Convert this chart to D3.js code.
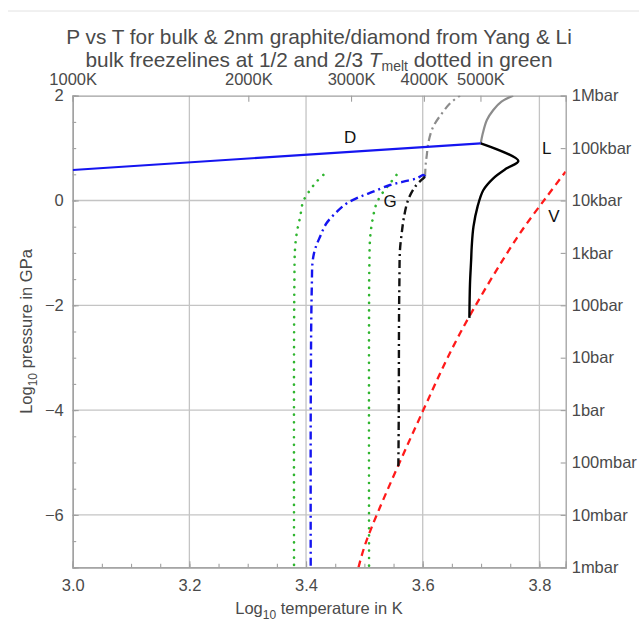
<!DOCTYPE html>
<html>
<head>
<meta charset="utf-8">
<script src="https://cdn.jsdelivr.net/npm/d3@7/dist/d3.min.js"></script>
<style>
  html, body { margin: 0; padding: 0; background: #fff; }
  svg { display: block; font-family: "Liberation Sans", Arial, sans-serif; }
</style>
</head>
<body>
<svg id="chart" width="639" height="625"></svg>
<script>
// ---- data: [log10 T (K), log10 P (GPa)] ----
const diamondLine = [[3.0, 0.582], [3.6995, 1.092]];                       // D, blue solid
const meltUpper = [[3.6995, 1.092], [3.703, 1.282], [3.710, 1.536], [3.721, 1.727],
                   [3.735, 1.886], [3.755, 2.0]];                            // grey solid
const liquidLine = [[3.6995, 1.092], [3.764, 0.754], [3.744, 0.614], [3.721, 0.424],
                    [3.704, 0.200], [3.694, -0.118], [3.687, -0.500], [3.684, -0.882],
                    [3.683, -1.136], [3.681, -1.6], [3.680, -2.24]];        // L, black solid
const vapourLine = [[3.490, -7.0], [3.504, -6.48], [3.601, -4.0], [3.664, -2.535],
                    [3.761, -0.721], [3.8126, 0.073], [3.845, 0.55]];       // V, red dashed
const nanoUpper = [[3.604, 0.454], [3.605, 0.677], [3.607, 0.868], [3.610, 1.122],
                   [3.618, 1.408], [3.633, 1.664], [3.647, 1.855], [3.661, 1.981],
                   [3.664, 2.0]];                                            // grey dot-dash
const nanoGraphite = [[3.604, 0.454], [3.601, 0.487], [3.590, 0.424], [3.567, 0.359],
                      [3.544, 0.296], [3.515, 0.168], [3.493, 0.073], [3.470, -0.053],
                      [3.453, -0.214], [3.435, -0.435], [3.424, -0.691], [3.415, -0.945],
                      [3.411, -1.198], [3.410, -1.580], [3.409, -2.218], [3.408, -4.126],
                      [3.408, -7.0]];                                        // blue dot-dash
const nanoLiquid = [[3.604, 0.454], [3.601, 0.424], [3.587, 0.263], [3.575, 0.010],
                    [3.568, -0.309], [3.564, -0.626], [3.561, -0.944], [3.560, -1.580],
                    [3.5594, -2.218], [3.5589, -4.126], [3.5582, -5.11]];   // black dot-dash
const freezeHalf = [[3.4296, 0.487], [3.418, 0.359], [3.407, 0.201], [3.395, -0.023],
                    [3.390, -0.309], [3.384, -0.626], [3.381, -0.944], [3.380, -1.580],
                    [3.3794, -2.853], [3.3794, -7.0]];                       // green dotted
const freezeTwoThirds = [[3.555, 0.487], [3.544, 0.328], [3.5325, 0.168], [3.521, -0.053],
                         [3.515, -0.309], [3.510, -0.691], [3.5085, -1.263], [3.508, -2.218],
                         [3.508, -7.0]];                                     // green dotted

const phaseLabels = [["D", 3.4754, 1.212], ["G", 3.544, 0.0], ["L", 3.8126, 1.0], ["V", 3.825, -0.296]];

const xTicks = [3.0, 3.2, 3.4, 3.6, 3.8];
const yTicks = [2, 0, -2, -4, -6];
const topTempsK = [1000, 2000, 3000, 4000, 5000];
const pressureLabels = ["1Mbar", "100kbar", "10kbar", "1kbar", "100bar", "10bar",
                        "1bar", "100mbar", "10mbar", "1mbar"];   // log10 P = 2 .. -7

// ---- layout ----
const svg = d3.select("#chart");
const L = 72.7, R = 565.7, T = 95.7, B = 567.3;
const x = d3.scaleLinear().domain([3, Math.log10(7000)]).range([L, R]);
const y = d3.scaleLinear().domain([-7, 2]).range([B, T]);

const textCol = "#4a4a4a";
const frameCol = "#a0a0a0";
const gridCol = "#c4c4c4";

// faint rule at the top of the page
svg.append("line").attr("x1", 8).attr("x2", 639).attr("y1", 11).attr("y2", 11)
  .attr("stroke", "#e2e2e2").attr("stroke-width", 1);

// title
const title = svg.append("g").attr("fill", textCol).attr("font-size", 20.8).attr("text-anchor", "middle");
title.append("text").attr("x", 319).attr("y", 44)
  .text("P vs T for bulk & 2nm graphite/diamond from Yang & Li");
const t2 = title.append("text").attr("x", 319).attr("y", 67);
t2.append("tspan").text("bulk freezelines at 1/2 and 2/3 ");
t2.append("tspan").attr("font-style", "italic").text("T");
t2.append("tspan").attr("font-size", 14).attr("dy", 4).text("melt");
t2.append("tspan").attr("dy", -4).text(" dotted in green");

// grid
const grid = svg.append("g").attr("stroke", gridCol).attr("stroke-width", 1.3);
grid.selectAll(".gx").data(xTicks.filter(d => d > 3)).join("line")
  .attr("x1", d => x(d)).attr("x2", d => x(d)).attr("y1", T).attr("y2", B);
grid.selectAll(".gy").data(yTicks.filter(d => d < 2)).join("line")
  .attr("x1", L).attr("x2", R).attr("y1", d => y(d)).attr("y2", d => y(d));

// axes
const fmt1 = d3.format(".1f");
svg.append("g").attr("transform", `translate(0,${B})`)
  .call(d3.axisBottom(x).tickValues(d3.range(3, 3.84, 0.05)).tickSize(-3.5).tickFormat(""));
svg.append("g").attr("transform", `translate(0,${B})`)
  .call(d3.axisBottom(x).tickValues(xTicks).tickSize(-6).tickPadding(12).tickFormat(fmt1));

svg.append("g").attr("transform", `translate(${L},0)`)
  .call(d3.axisLeft(y).tickValues(d3.range(-7, 2.01, 0.5)).tickSize(-3.5).tickFormat(""));
svg.append("g").attr("transform", `translate(${L},0)`)
  .call(d3.axisLeft(y).tickValues(yTicks).tickSize(-6).tickPadding(9)
    .tickFormat(d => d < 0 ? "\u2212" + Math.abs(d) : String(d)));

svg.append("g").attr("transform", `translate(0,${T})`)
  .call(d3.axisTop(x).tickValues(topTempsK.map(k => Math.log10(k))).tickSize(-6).tickPadding(10.5)
    .tickFormat((d, i) => topTempsK[i] + "K"));

svg.append("g").attr("transform", `translate(${R},0)`)
  .call(d3.axisRight(y).tickValues(d3.range(2, -7.01, -1)).tickSize(-5).tickPadding(6)
    .tickFormat((d, i) => pressureLabels[i]));

svg.selectAll(".domain").attr("stroke", frameCol).attr("stroke-width", 1.3);
svg.selectAll(".tick line").attr("stroke", frameCol).attr("stroke-width", 1.1);
svg.selectAll(".tick text").attr("fill", textCol).attr("font-size", 16.5)
  .attr("font-family", "'Liberation Sans', Arial, sans-serif");

// axis titles
const xt = svg.append("text").attr("x", 319).attr("y", 614).attr("text-anchor", "middle")
  .attr("fill", textCol).attr("font-size", 16.5);
xt.append("tspan").text("Log");
xt.append("tspan").attr("font-size", 12).attr("dy", 5).text("10");
xt.append("tspan").attr("dy", -5).text(" temperature in K");

const yt = svg.append("text").attr("transform", `translate(32,${(T + B) / 2}) rotate(-90)`)
  .attr("text-anchor", "middle").attr("fill", textCol).attr("font-size", 16.5);
yt.append("tspan").text("Log");
yt.append("tspan").attr("font-size", 12).attr("dy", 5).text("10");
yt.append("tspan").attr("dy", -5).text(" pressure in GPa");

// curves
const plot = svg.append("g");
svg.append("clipPath").attr("id", "clip").append("rect")
  .attr("x", L).attr("y", T).attr("width", R - L).attr("height", B - T);
plot.attr("clip-path", "url(#clip)");
const line = d3.line().x(d => x(d[0])).y(d => y(d[1])).curve(d3.curveCatmullRom.alpha(0.5));

const series = [
  { d: freezeHalf, c: "#2fb52f", w: 2.6, dash: "0.1,7.4", cap: "round" },
  { d: freezeTwoThirds, c: "#2fb52f", w: 2.6, dash: "0.1,7.4", cap: "round" },
  { d: vapourLine, c: "#ff1a1a", w: 2.3, dash: "7,5", cap: "butt" },
  { d: nanoUpper, c: "#8c8c8c", w: 2.2, dash: "8,4,2,4", cap: "butt" },
  { d: nanoGraphite, c: "#1515f0", w: 2.4, dash: "8,4,2,4", cap: "butt" },
  { d: nanoLiquid, c: "#111", w: 2.4, dash: "8,4,2,4", cap: "butt" },
  { d: meltUpper, c: "#8c8c8c", w: 2.2, dash: null, cap: "butt" },
  { d: diamondLine, c: "#1515f0", w: 2.2, dash: null, cap: "butt" },
  { d: liquidLine, c: "#000", w: 2.4, dash: null, cap: "butt" }
];
plot.selectAll("path").data(series).join("path")
  .attr("d", s => line(s.d)).attr("fill", "none")
  .attr("stroke", s => s.c).attr("stroke-width", s => s.w)
  .attr("stroke-dasharray", s => s.dash).attr("stroke-linecap", s => s.cap)
  .attr("stroke-linejoin", "round");

// phase labels
svg.append("g").selectAll("text").data(phaseLabels).join("text")
  .attr("x", d => x(d[1])).attr("y", d => y(d[2])).attr("dy", "0.36em")
  .attr("text-anchor", "middle").attr("font-size", 17).attr("fill", "#111")
  .text(d => d[0]);
</script>
</body>
</html>
